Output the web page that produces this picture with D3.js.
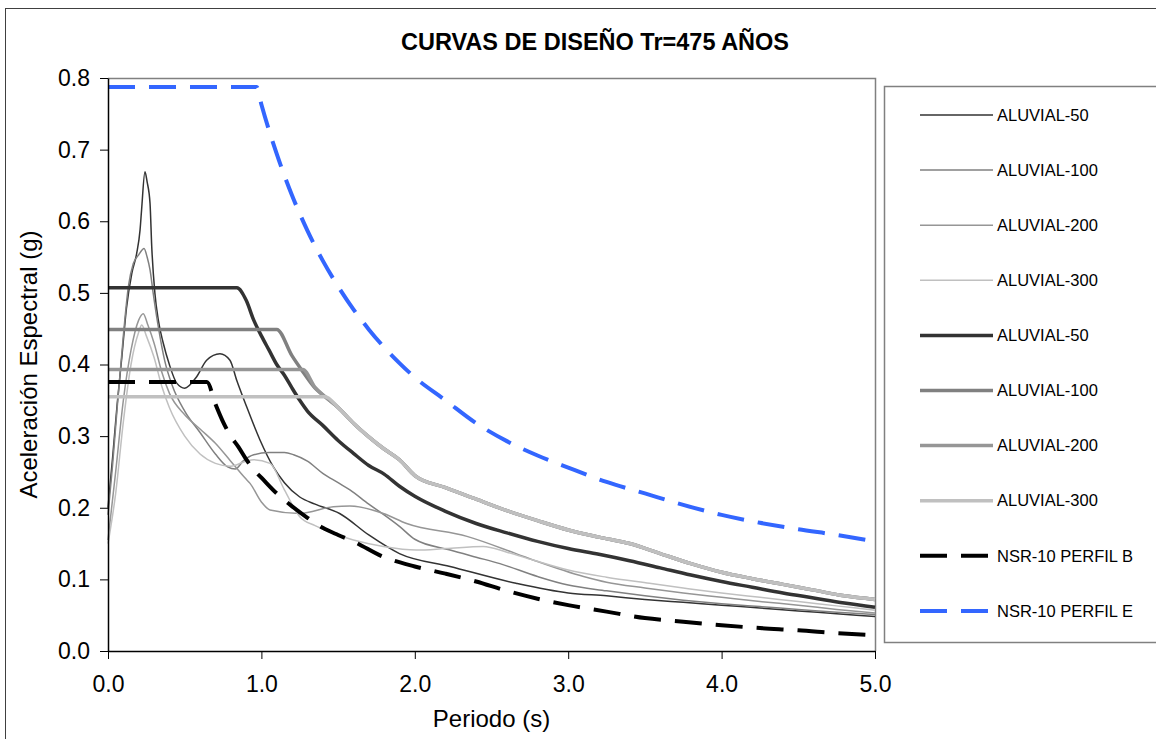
<!DOCTYPE html>
<html>
<head>
<meta charset="utf-8">
<script src="https://cdnjs.cloudflare.com/ajax/libs/d3/7.8.5/d3.min.js"></script>
<style>
  body { margin: 0; background: #ffffff; }
  text { font-family: "Liberation Sans", Arial, sans-serif; fill: #000; }
</style>
</head>
<body>
<script>

// periods (s) and spectral accelerations (g)

// site spectra (thin lines)
var thin50T  = [0, 0.03, 0.06, 0.09, 0.12, 0.155, 0.187, 0.209, 0.219, 0.241, 0.255, 0.274, 0.285, 0.306, 0.328, 0.36, 0.40, 0.448, 0.50, 0.578, 0.643, 0.73, 0.795, 0.839, 0.904, 0.99, 1.078, 1.15, 1.25, 1.35, 1.51, 1.7, 1.9, 2.23, 2.66, 3.0, 3.25, 3.5, 3.75, 4.0, 4.25, 4.5, 4.75, 5.0];
var thin50Sa = [0.20, 0.27, 0.345, 0.41, 0.478, 0.527, 0.555, 0.588, 0.616, 0.669, 0.655, 0.625, 0.565, 0.499, 0.462, 0.43, 0.40, 0.374, 0.367, 0.383, 0.406, 0.415, 0.406, 0.378, 0.341, 0.295, 0.257, 0.235, 0.215, 0.205, 0.192, 0.162, 0.136, 0.118, 0.0945, 0.081, 0.077, 0.072, 0.068, 0.064, 0.060, 0.056, 0.052, 0.048];

var thin100T  = [0, 0.03, 0.06, 0.1, 0.133, 0.165, 0.2, 0.235, 0.255, 0.274, 0.295, 0.33, 0.37, 0.42, 0.5, 0.6, 0.7, 0.78, 0.83, 0.88, 0.95, 1.05, 1.15, 1.21, 1.3, 1.4, 1.5, 1.577, 1.7, 1.8, 1.9, 2.0, 2.23, 2.4, 2.555, 2.8, 3.0, 3.25, 3.5, 3.75, 4.0, 4.25, 4.5, 4.75, 5.0];
var thin100Sa = [0.19, 0.26, 0.34, 0.44, 0.509, 0.541, 0.553, 0.562, 0.55, 0.532, 0.499, 0.45, 0.405, 0.37, 0.335, 0.305, 0.275, 0.257, 0.254, 0.265, 0.274, 0.277, 0.277, 0.274, 0.265, 0.248, 0.235, 0.225, 0.205, 0.19, 0.174, 0.156, 0.141, 0.131, 0.122, 0.104, 0.092, 0.084, 0.077, 0.071, 0.066, 0.062, 0.058, 0.054, 0.051];

var thin200T  = [0, 0.05, 0.1, 0.15, 0.2, 0.23, 0.26, 0.3, 0.35, 0.4, 0.5, 0.6, 0.7, 0.8, 0.9, 0.926, 1.0, 1.056, 1.25, 1.469, 1.577, 1.795, 1.947, 2.34, 2.66, 2.8, 3.1, 3.25, 3.5, 3.75, 4.0, 4.25, 4.5, 4.75, 5.0];
var thin200Sa = [0.155, 0.25, 0.35, 0.42, 0.462, 0.471, 0.455, 0.43, 0.39, 0.36, 0.33, 0.31, 0.29, 0.265, 0.24, 0.234, 0.208, 0.197, 0.192, 0.2015, 0.2025, 0.192, 0.178, 0.16, 0.136, 0.125, 0.104, 0.096, 0.088, 0.081, 0.075, 0.069, 0.064, 0.058, 0.053];

var thin300T  = [0, 0.05, 0.1, 0.15, 0.2, 0.22, 0.25, 0.3, 0.35, 0.4, 0.5, 0.6, 0.7, 0.8, 0.9, 0.95, 1.056, 1.15, 1.25, 1.35, 1.469, 1.6, 1.795, 2.01, 2.2, 2.446, 2.6, 2.77, 3.0, 3.25, 3.53, 3.75, 4.0, 4.25, 4.5, 4.75, 5.0];
var thin300Sa = [0.15, 0.22, 0.32, 0.40, 0.445, 0.455, 0.44, 0.41, 0.37, 0.34, 0.30, 0.275, 0.262, 0.258, 0.265, 0.267, 0.262, 0.225, 0.1875, 0.175, 0.164, 0.155, 0.146, 0.141, 0.143, 0.146, 0.138, 0.127, 0.113, 0.103, 0.0945, 0.088, 0.081, 0.075, 0.069, 0.063, 0.057];

// design spectra (thick lines)
var design50T  = [0, 0.84, 0.9, 0.95, 1.0, 1.05, 1.1, 1.15, 1.2, 1.25, 1.3, 1.4, 1.5, 1.6, 1.7, 1.8, 1.9, 2.0, 2.2, 2.4, 2.6, 2.8, 3.0, 3.2, 3.4, 3.6, 3.8, 4.0, 4.2, 4.4, 4.6, 4.8, 5.0];
var design50Sa = [0.507, 0.507, 0.49, 0.462, 0.44, 0.42, 0.40, 0.385, 0.367, 0.35, 0.335, 0.315, 0.294, 0.276, 0.259, 0.247, 0.23, 0.216, 0.195, 0.178, 0.165, 0.153, 0.143, 0.135, 0.126, 0.116, 0.106, 0.097, 0.089, 0.081, 0.074, 0.067, 0.061];

// common descending branch of the 100, 200 and 300 design spectra
var designTailT  = [1.415, 1.5, 1.6, 1.7, 1.8, 1.9, 2.0, 2.2, 2.4, 2.6, 2.8, 3.0, 3.2, 3.4, 3.6, 3.8, 4.0, 4.2, 4.4, 4.6, 4.8, 5.0];
var designTailSa = [0.355, 0.34, 0.318, 0.299, 0.282, 0.267, 0.245, 0.228, 0.212, 0.196, 0.182, 0.169, 0.159, 0.15, 0.136, 0.122, 0.11, 0.101, 0.093, 0.085, 0.077, 0.072];

var design100T  = [0, 1.10, 1.2, 1.27, 1.35];
var design100Sa = [0.449, 0.449, 0.412, 0.39, 0.367];
var design200T  = [0, 1.27, 1.35];
var design200Sa = [0.393, 0.393, 0.368];
var design300T  = [0];
var design300Sa = [0.355];

// NSR-10 spectra
var nsrBT  = [0, 0.645, 0.7, 0.75, 0.8, 0.85, 0.9, 0.95, 1.0, 1.1, 1.2, 1.3, 1.4, 1.5, 1.6, 1.8, 2.0, 2.2, 2.4, 2.6, 2.8, 3.0, 3.25, 3.5, 3.75, 4.0, 4.25, 4.5, 4.75, 5.0];
var nsrBSa = [0.3755, 0.3755, 0.345, 0.32, 0.30, 0.285, 0.268, 0.253, 0.242, 0.22, 0.202, 0.186, 0.172, 0.162, 0.153, 0.131, 0.118, 0.108, 0.097, 0.084, 0.073, 0.064, 0.055, 0.046, 0.041, 0.036, 0.032, 0.029, 0.025, 0.022];

var nsrET  = [0, 0.969, 1.0, 1.1, 1.2, 1.3, 1.4, 1.5, 1.6, 1.7, 1.8, 1.9, 2.0, 2.2, 2.4, 2.6, 2.8, 3.0, 3.25, 3.5, 3.75, 4.0, 4.25, 4.5, 4.75, 5.0];
var nsrESa = [0.7875, 0.7875, 0.763, 0.694, 0.636, 0.587, 0.545, 0.509, 0.477, 0.449, 0.424, 0.402, 0.382, 0.350, 0.318, 0.293, 0.273, 0.256, 0.236, 0.220, 0.204, 0.190, 0.179, 0.170, 0.162, 0.153];

var legendLabels = ["ALUVIAL-50", "ALUVIAL-100", "ALUVIAL-200", "ALUVIAL-300",
                    "ALUVIAL-50", "ALUVIAL-100", "ALUVIAL-200", "ALUVIAL-300",
                    "NSR-10 PERFIL B", "NSR-10 PERFIL E"];
var xTicks = [0, 1, 2, 3, 4, 5];
var yTicks = [0, 0.1, 0.2, 0.3, 0.4, 0.5, 0.6, 0.7, 0.8];

// styles of the series, same order as the legend
var colors = ["#333333", "#808080", "#969696", "#c0c0c0",
              "#333333", "#808080", "#969696", "#c0c0c0",
              "#000000", "#3366ff"];
var widths = [1.5, 1.5, 1.5, 1.5, 3.5, 3.5, 3.5, 3.5, 4, 4];
var dashes = [null, null, null, null, null, null, null, null, "27,14", "27,14"];

window.onload = function () {

  // puts period and acceleration arrays together
  function pairs(t, sa) {
    return t.map(function (d, i) { return [d, sa[i]]; });
  }

  var seriesData = [
    pairs(thin50T, thin50Sa),
    pairs(thin100T, thin100Sa),
    pairs(thin200T, thin200Sa),
    pairs(thin300T, thin300Sa),
    pairs(design50T, design50Sa),
    pairs(design100T.concat(designTailT), design100Sa.concat(designTailSa)),
    pairs(design200T.concat(designTailT), design200Sa.concat(designTailSa)),
    pairs(design300T.concat(designTailT), design300Sa.concat(designTailSa)),
    pairs(nsrBT, nsrBSa),
    pairs(nsrET, nsrESa)
  ];

  var width = 1156;
  var height = 739;
  var left = 108, right = 875, top = 78, bottom = 651;

  var svg = d3.select("body")
              .append("svg")
              .attr("width", width)
              .attr("height", height);

  // chart border
  svg.append("rect")
     .attr("x", 5.5).attr("y", 8.5)
     .attr("width", 1170).attr("height", 760)
     .attr("fill", "none")
     .attr("stroke", "#404040")
     .attr("stroke-width", 1);

  var xScale = d3.scaleLinear().domain([0, 5]).range([left, right]);
  var yScale = d3.scaleLinear().domain([0, 0.8]).range([bottom, top]);

  // plot area border (top and right)
  svg.append("path")
     .attr("d", "M" + left + "," + (top + 0.5) + "H" + (right + 0.5) + "V" + bottom)
     .attr("fill", "none")
     .attr("stroke", "#808080")
     .attr("stroke-width", 1.5);

  // series
  var line = d3.line()
               .x(function (d) { return xScale(d[0]); })
               .y(function (d) { return yScale(d[1]); })
               .curve(d3.curveMonotoneX);

  svg.selectAll(".serie")
     .data(seriesData)
     .enter()
     .append("path")
     .attr("class", "serie")
     .attr("d", line)
     .attr("fill", "none")
     .attr("stroke", function (d, i) { return colors[i]; })
     .attr("stroke-width", function (d, i) { return widths[i]; })
     .attr("stroke-dasharray", function (d, i) { return dashes[i]; })
     .attr("stroke-linejoin", "round");

  // y axis
  var yAxis = d3.axisLeft(yScale)
                .tickValues(yTicks)
                .tickFormat(d3.format(".1f"))
                .tickSizeInner(8)
                .tickSizeOuter(0)
                .tickPadding(10);

  var gy = svg.append("g")
     .attr("transform", "translate(" + left + ",0)")
     .call(yAxis);

  // x axis
  var xAxis = d3.axisBottom(xScale)
                .tickValues(xTicks)
                .tickFormat(d3.format(".1f"))
                .tickSizeInner(8)
                .tickSizeOuter(0)
                .tickPadding(17);

  var gx = svg.append("g")
     .attr("transform", "translate(0," + bottom + ")")
     .call(xAxis);

  [gx, gy].forEach(function (g) {
    g.select(".domain").attr("stroke", "#000").attr("stroke-width", 1.5);
    g.selectAll(".tick line").attr("stroke", "#000").attr("stroke-width", 1);
    g.selectAll(".tick text")
     .style("font-family", "'Liberation Sans', Arial, sans-serif")
     .style("font-size", "23px");
  });

  // title
  svg.append("text")
     .attr("x", 595)
     .attr("y", 50)
     .attr("text-anchor", "middle")
     .style("font-size", "23.5px")
     .style("font-weight", "bold")
     .text("CURVAS DE DISEÑO Tr=475 AÑOS");

  // axis titles
  svg.append("text")
     .attr("x", (left + right) / 2)
     .attr("y", 727)
     .attr("text-anchor", "middle")
     .style("font-size", "24px")
     .text("Periodo (s)");

  svg.append("text")
     .attr("transform", "translate(37," + ((top + bottom) / 2) + ")rotate(-90)")
     .attr("text-anchor", "middle")
     .style("font-size", "24px")
     .text("Aceleración Espectral (g)");

  // legend
  svg.append("rect")
     .attr("x", 884.5).attr("y", 86.5)
     .attr("width", 320).attr("height", 556)
     .attr("fill", "none")
     .attr("stroke", "#808080")
     .attr("stroke-width", 1.5);

  var legend = svg.selectAll(".legend")
                  .data(legendLabels)
                  .enter()
                  .append("g")
                  .attr("class", "legend")
                  .attr("transform", function (d, i) { return "translate(0," + (115 + i * 55.1) + ")"; });

  legend.append("line")
        .attr("x1", 920).attr("x2", 993)
        .attr("stroke", function (d, i) { return colors[i]; })
        .attr("stroke-width", function (d, i) { return widths[i]; })
        .attr("stroke-dasharray", function (d, i) { return dashes[i]; });

  legend.append("text")
        .attr("x", 997)
        .attr("dy", "0.35em")
        .style("font-size", "16.5px")
        .text(function (d) { return d; });
};
</script>
</body>
</html>
